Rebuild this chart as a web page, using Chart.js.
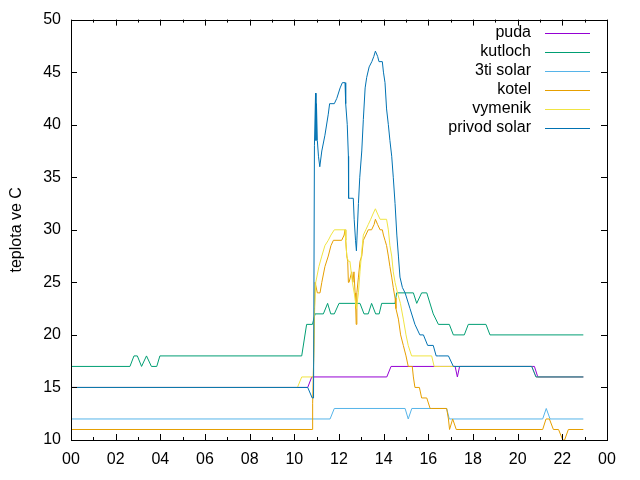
<!DOCTYPE html>
<html>
<head>
<meta charset="utf-8">
<script src="https://cdn.jsdelivr.net/npm/chart.js@4"></script>
<style>
  html, body { margin: 0; padding: 0; background: #fff; }
  #wrap { width: 640px; height: 480px; }
</style>
</head>
<body>
<div id="wrap"><canvas id="c" width="640" height="480"></canvas></div>
<script>
// temperatures over one day, hours on x
const names = ['puda', 'kutloch', '3ti solar', 'kotel', 'vymenik', 'privod solar'];
const colors = ['#9400d3', '#009e73', '#56b4e9', '#e69f00', '#f0e442', '#0072b2'];
const xTicks = ['00','02','04','06','08','10','12','14','16','18','20','22','00'];

const pudaT = [0, 10.6, 10.78, 14.14, 14.33, 17.2, 17.3, 17.4, 20.75, 20.9, 22.94];
const pudaV = [15, 15, 16, 16, 17, 17, 16, 17, 17, 16, 16];

const kutlochT = [0, 2.64, 2.82, 2.97, 3.16, 3.38, 3.6, 3.84, 3.98, 10.33, 10.55, 10.81, 10.93, 11.3, 11.49, 11.63, 11.79, 12.0,
  12.94, 13.12, 13.31, 13.46, 13.64, 13.8, 13.91, 14.51, 14.58, 15.33, 15.48, 15.7, 15.93, 16.22, 16.45,
  16.94, 17.12, 17.61, 17.79, 18.58, 18.76, 22.94];
const kutlochV = [17, 17, 18, 18, 17, 18, 17, 17, 18, 18, 21, 21, 22, 22, 23, 22, 22, 23,
  23, 22, 22, 23, 22, 22, 23, 23, 24, 24, 23, 24, 24, 22, 21,
  21, 20, 20, 21, 21, 20, 20];

const solar3T = [0, 11.6, 11.79, 14.96, 15.1, 15.26, 16.82, 16.94, 21.12, 21.28, 21.45, 22.94];
const solar3V = [12, 12, 13, 13, 12, 13, 13, 12, 12, 13, 12, 12];

const kotelT = [0, 10.81, 10.82, 10.87, 10.93, 11.03, 11.1, 11.15, 11.23, 11.37, 11.52, 11.64, 11.75, 12.12, 12.23,
  12.27, 12.3, 12.35, 12.39, 12.42, 12.45, 12.49, 12.57, 12.62, 12.67, 12.72, 12.75, 12.77, 12.8, 12.87,
  12.94, 13.02, 13.09, 13.2, 13.31, 13.46, 13.57, 13.63, 13.73, 13.84, 13.94, 13.99, 14.06, 14.13, 14.21,
  14.28, 14.36, 14.43, 14.51, 14.55, 14.66, 14.76, 14.88, 15.0, 15.1, 15.28, 15.33, 15.4, 15.6, 15.7,
  15.93, 16.08, 16.15, 16.82, 16.9, 16.95, 17.09, 17.25, 21.12, 21.27, 21.42, 21.6, 21.83, 22.02, 22.1,
  22.27, 22.94];
const kotelV = [11, 11, 13.5, 18, 25, 24, 24, 24, 25, 26.5, 27.5, 28.5, 29, 29, 29.5,
  30, 29, 27.5, 27, 25, 25, 25, 26, 25, 26, 24, 22.5, 21, 24, 25.5,
  27, 27.5, 29, 29.5, 30, 30, 30.5, 31, 30.5, 30, 30, 29.5, 29, 28.5, 27.5,
  26.5, 25.5, 24.5, 23.5, 22.5, 21.5, 20, 19, 18, 17, 17, 16, 15, 15, 14,
  14, 13, 13, 13, 12, 11, 12, 11, 11, 12, 12, 11, 11, 10, 10,
  11, 11];

const vymenikT = [0, 10.14, 10.33, 10.85, 10.9, 10.96, 11.1, 11.23, 11.37, 11.52, 11.64, 11.79, 12.27, 12.3, 12.35,
  12.42, 12.49, 12.6, 12.72, 12.78, 12.87, 12.94, 13.02, 13.09, 13.2, 13.31, 13.42, 13.52, 13.63, 13.73,
  13.84, 14.13, 14.21, 14.28, 14.36, 14.43, 14.51, 14.62, 14.75, 14.88, 15.0, 15.1, 15.25, 16.15, 16.26,
  20.63, 20.82, 22.94];
const vymenikV = [15, 15, 16, 16, 22.5, 25, 26.5, 27.5, 28.5, 29, 29.5, 30, 30, 29, 27.5,
  27, 27, 25, 23.5, 22.5, 24, 26, 28, 29.5, 30, 30.5, 31, 31.5, 32, 31.5,
  31, 31, 30, 28.5, 27.5, 26, 25, 24, 23, 21.5, 20, 19, 18, 18, 17,
  17, 16, 16];

const privodT = [0, 10.6, 10.8, 10.86, 10.9, 10.95, 10.97, 10.99, 11.03, 11.08, 11.14, 11.23, 11.37, 11.52, 11.58,
  11.79, 11.9, 12.05, 12.15, 12.27, 12.3, 12.37, 12.42, 12.43, 12.5, 12.64, 12.68, 12.74, 12.78, 12.81,
  12.87, 12.93, 13.02, 13.09, 13.17, 13.24, 13.35, 13.47, 13.56, 13.63, 13.73, 13.79, 13.94, 13.99, 14.06,
  14.13, 14.21, 14.28, 14.36, 14.43, 14.51, 14.59, 14.66, 14.73, 14.84, 14.96, 15.18, 15.4, 15.62, 15.78,
  15.97, 16.22, 16.35, 16.45, 16.9, 17.12, 20.63, 20.82, 22.94];
const privodV = [15, 15, 14, 14, 38, 43, 38.5, 42, 38.5, 37, 36, 37.5, 39, 41, 42,
  42, 42.5, 43.5, 44, 44, 42, 40, 37, 33, 33, 33, 31, 29, 28, 29.5,
  32.5, 35, 37.5, 40.5, 43.5, 44.5, 45.5, 46, 46.5, 47, 46.5, 46, 46, 45, 44,
  41.5, 40, 38.5, 37, 35, 32.5, 29.5, 27.5, 25.5, 24.5, 24, 22.5, 21, 20, 20,
  19, 19, 18, 18, 18, 17, 17, 16, 16];

const series = [[pudaT, pudaV], [kutlochT, kutlochV], [solar3T, solar3V],
  [kotelT, kotelV], [vymenikT, vymenikV], [privodT, privodV]];

const FONT = '"Liberation Sans", Arial, sans-serif';
const FS = 16;

// gnuplot style border + inward tics
const frame = {
  id: 'frame',
  afterDatasetsDraw(chart){
    const {ctx, chartArea:a, scales:{x, y}} = chart;
    ctx.save();
    ctx.strokeStyle = '#000'; ctx.lineWidth = 1;
    ctx.beginPath();
    for(let h=0; h<=24; h++){
      const px = Math.round(x.getPixelForValue(h)) + 0.5;
      const len = h%2 ? 3 : 6;
      ctx.moveTo(px, a.bottom); ctx.lineTo(px, a.bottom-len);
      ctx.moveTo(px, a.top); ctx.lineTo(px, a.top+len);
    }
    for(let v=10; v<=50; v+=5){
      const py = Math.round(y.getPixelForValue(v)) + 0.5;
      ctx.moveTo(a.left, py); ctx.lineTo(a.left+6, py);
      ctx.moveTo(a.right, py); ctx.lineTo(a.right-6, py);
    }
    ctx.stroke();
    ctx.strokeRect(Math.round(a.left)+0.5, Math.round(a.top)+0.5, Math.round(a.width), Math.round(a.height));
    ctx.restore();
  }
};

const keyBox = {
  id: 'keyBox',
  afterDraw(chart){
    const ctx = chart.ctx;
    ctx.save();
    ctx.font = FS+'px '+FONT;
    ctx.textAlign = 'right'; ctx.textBaseline = 'middle';
    names.forEach((n,i)=>{
      const ty = 33 + i*19;
      ctx.fillStyle = '#000';
      ctx.fillText(n, 531, ty);
      ctx.strokeStyle = colors[i]; ctx.lineWidth = 1;
      ctx.beginPath(); ctx.moveTo(545, ty+0.5); ctx.lineTo(590, ty+0.5); ctx.stroke();
    });
    ctx.restore();
  }
};

const datasets = series.map((s,i)=>({
  label: names[i],
  data: s[0].map((t,j)=>({x:t, y:s[1][j]})),
  borderColor: colors[i],
  borderWidth: 1,
  pointRadius: 0,
  tension: 0,
  fill: false,
  clip: false,
  order: names.length - i
}));

new Chart(document.getElementById('c'), {
  type: 'line',
  data: { datasets },
  plugins: [frame, keyBox],
  options: {
    responsive: false,
    animation: false,
    devicePixelRatio: 1,
    layout: { padding: { top: 19, right: 33, left: 0, bottom: 0 } },
    plugins: { legend: { display: false }, tooltip: { enabled: false } },
    scales: {
      x: {
        type: 'linear', min: 0, max: 24,
        afterFit: s => { s.height = 40; },
        grid: { display: false, drawTicks: false },
        border: { display: false },
        ticks: {
          stepSize: 2, autoSkip: false, maxRotation: 0, padding: 10,
          color: '#000', font: { family: FONT, size: FS },
          callback: v => xTicks[v/2]
        }
      },
      y: {
        min: 10, max: 50,
        afterFit: s => { s.width = 71; },
        grid: { display: false, drawTicks: false },
        border: { display: false },
        ticks: { stepSize: 5, padding: 10, color: '#000', font: { family: FONT, size: FS } },
        title: { display: true, text: 'teplota ve C', color: '#000', padding: { top: 7 }, font: { family: FONT, size: FS } }
      }
    }
  }
});
</script>
</body>
</html>
